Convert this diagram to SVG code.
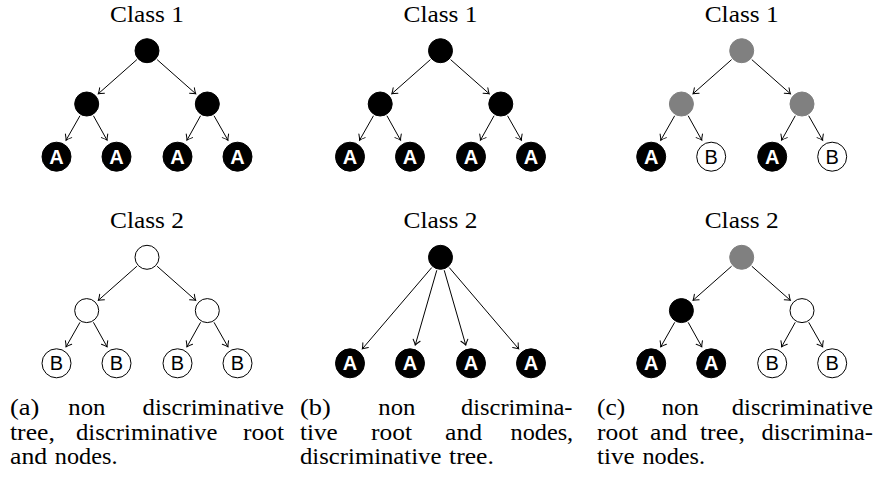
<svg xmlns="http://www.w3.org/2000/svg" width="882" height="483" viewBox="0 0 882 483">
<style>
.title{font-family:"Liberation Serif","Times New Roman",serif;font-size:23px;fill:#000;text-anchor:middle}
.cap{font-family:"Liberation Serif","Times New Roman",serif;font-size:23px;fill:#000}
.blk{fill:#000;stroke:#000;stroke-width:1}
.wht{fill:#fff;stroke:#000;stroke-width:1}
.gry{fill:#808080;stroke:#808080;stroke-width:1}
.la{font-family:"Liberation Sans",Arial,sans-serif;font-size:20px;font-weight:bold;fill:#fff;text-anchor:middle}
.lb{font-family:"Liberation Sans",Arial,sans-serif;font-size:20px;fill:#000;text-anchor:middle}
.edge{stroke:#000;stroke-width:1;fill:none;marker-end:url(#arr)}
</style>
<defs>
<marker id="arr" markerUnits="userSpaceOnUse" markerWidth="12" markerHeight="12" refX="0" refY="0" viewBox="-7 -6 8 12" orient="auto" overflow="visible">
<path d="M-5,-3.6 Q-1.8,-0.9 0,0 Q-1.8,0.9 -5,3.6" fill="none" stroke="#000" stroke-width="1" stroke-linecap="round"/>
</marker>
</defs>

<!-- Panel (a) top -->
<g id="a-top" transform="translate(147,50.7)">
<text class="title" x="0" y="-29" textLength="74" lengthAdjust="spacingAndGlyphs">Class 1</text>
<g id="a-top-edges">
<line class="edge" x1="-10.11" y1="8.94" x2="-48.69" y2="43.04"/>
<line class="edge" x1="10.11" y1="8.94" x2="48.69" y2="43.04"/>
<line class="edge" x1="-67.01" y1="65.02" x2="-80.94" y2="89.51"/>
<line class="edge" x1="-53.59" y1="65.02" x2="-39.94" y2="89.51"/>
<line class="edge" x1="53.59" y1="65.02" x2="39.94" y2="89.51"/>
<line class="edge" x1="67.01" y1="65.02" x2="80.94" y2="89.51"/>
</g>
<g id="a1-root"><circle class="blk" cx="0" cy="0" r="12"/></g>
<g id="a1-m1"><circle class="blk" cx="-60.3" cy="53.3" r="12"/></g>
<g id="a1-m2"><circle class="blk" cx="60.3" cy="53.3" r="12"/></g>
<g id="a1-l1"><circle class="blk" cx="-90.5" cy="106" r="14.5"/><text class="la" x="-90.5" y="113.2">A</text></g>
<g id="a1-l2"><circle class="blk" cx="-30.5" cy="106" r="14.5"/><text class="la" x="-30.5" y="113.2">A</text></g>
<g id="a1-l3"><circle class="blk" cx="30.5" cy="106" r="14.5"/><text class="la" x="30.5" y="113.2">A</text></g>
<g id="a1-l4"><circle class="blk" cx="90.5" cy="106" r="14.5"/><text class="la" x="90.5" y="113.2">A</text></g>
</g>

<!-- Panel (a) bottom -->
<g id="a-bot" transform="translate(147,257.3)">
<text class="title" x="0" y="-29" textLength="74" lengthAdjust="spacingAndGlyphs">Class 2</text>
<g id="a-bot-edges">
<line class="edge" x1="-10.11" y1="8.94" x2="-48.69" y2="43.04"/>
<line class="edge" x1="10.11" y1="8.94" x2="48.69" y2="43.04"/>
<line class="edge" x1="-67.01" y1="65.02" x2="-80.94" y2="89.51"/>
<line class="edge" x1="-53.59" y1="65.02" x2="-39.94" y2="89.51"/>
<line class="edge" x1="53.59" y1="65.02" x2="39.94" y2="89.51"/>
<line class="edge" x1="67.01" y1="65.02" x2="80.94" y2="89.51"/>
</g>
<g id="a2-root"><circle class="wht" cx="0" cy="0" r="12"/></g>
<g id="a2-m1"><circle class="wht" cx="-60.3" cy="53.3" r="12"/></g>
<g id="a2-m2"><circle class="wht" cx="60.3" cy="53.3" r="12"/></g>
<g id="a2-l1"><circle class="wht" cx="-90.5" cy="106" r="14.5"/><text class="lb" x="-90.5" y="113.2">B</text></g>
<g id="a2-l2"><circle class="wht" cx="-30.5" cy="106" r="14.5"/><text class="lb" x="-30.5" y="113.2">B</text></g>
<g id="a2-l3"><circle class="wht" cx="30.5" cy="106" r="14.5"/><text class="lb" x="30.5" y="113.2">B</text></g>
<g id="a2-l4"><circle class="wht" cx="90.5" cy="106" r="14.5"/><text class="lb" x="90.5" y="113.2">B</text></g>
</g>

<!-- Panel (b) top -->
<g id="b-top" transform="translate(440.5,50.7)">
<text class="title" x="0" y="-29" textLength="74" lengthAdjust="spacingAndGlyphs">Class 1</text>
<g id="b-top-edges">
<line class="edge" x1="-10.11" y1="8.94" x2="-48.69" y2="43.04"/>
<line class="edge" x1="10.11" y1="8.94" x2="48.69" y2="43.04"/>
<line class="edge" x1="-67.01" y1="65.02" x2="-80.94" y2="89.51"/>
<line class="edge" x1="-53.59" y1="65.02" x2="-39.94" y2="89.51"/>
<line class="edge" x1="53.59" y1="65.02" x2="39.94" y2="89.51"/>
<line class="edge" x1="67.01" y1="65.02" x2="80.94" y2="89.51"/>
</g>
<g id="b1-root"><circle class="blk" cx="0" cy="0" r="12"/></g>
<g id="b1-m1"><circle class="blk" cx="-60.3" cy="53.3" r="12"/></g>
<g id="b1-m2"><circle class="blk" cx="60.3" cy="53.3" r="12"/></g>
<g id="b1-l1"><circle class="blk" cx="-90.5" cy="106" r="14.5"/><text class="la" x="-90.5" y="113.2">A</text></g>
<g id="b1-l2"><circle class="blk" cx="-30.5" cy="106" r="14.5"/><text class="la" x="-30.5" y="113.2">A</text></g>
<g id="b1-l3"><circle class="blk" cx="30.5" cy="106" r="14.5"/><text class="la" x="30.5" y="113.2">A</text></g>
<g id="b1-l4"><circle class="blk" cx="90.5" cy="106" r="14.5"/><text class="la" x="90.5" y="113.2">A</text></g>
</g>

<!-- Panel (b) bottom -->
<g id="b-bot" transform="translate(440.5,257.3)">
<text class="title" x="0" y="-29" textLength="74" lengthAdjust="spacingAndGlyphs">Class 2</text>
<g id="b-bot-edges">
<line class="edge" x1="-8.77" y1="10.27" x2="-78.16" y2="91.55"/>
<line class="edge" x1="-3.73" y1="12.97" x2="-25.25" y2="87.74"/>
<line class="edge" x1="3.73" y1="12.97" x2="25.25" y2="87.74"/>
<line class="edge" x1="8.77" y1="10.27" x2="78.16" y2="91.55"/>
</g>
<g id="b2-root"><circle class="blk" cx="0" cy="0" r="12"/></g>
<g id="b2-l1"><circle class="blk" cx="-90.5" cy="106" r="14.5"/><text class="la" x="-90.5" y="113.2">A</text></g>
<g id="b2-l2"><circle class="blk" cx="-30.5" cy="106" r="14.5"/><text class="la" x="-30.5" y="113.2">A</text></g>
<g id="b2-l3"><circle class="blk" cx="30.5" cy="106" r="14.5"/><text class="la" x="30.5" y="113.2">A</text></g>
<g id="b2-l4"><circle class="blk" cx="90.5" cy="106" r="14.5"/><text class="la" x="90.5" y="113.2">A</text></g>
</g>

<!-- Panel (c) top -->
<g id="c-top" transform="translate(741.7,50.7)">
<text class="title" x="0" y="-29" textLength="74" lengthAdjust="spacingAndGlyphs">Class 1</text>
<g id="c-top-edges">
<line class="edge" x1="-10.11" y1="8.94" x2="-48.69" y2="43.04"/>
<line class="edge" x1="10.11" y1="8.94" x2="48.69" y2="43.04"/>
<line class="edge" x1="-67.01" y1="65.02" x2="-80.94" y2="89.51"/>
<line class="edge" x1="-53.59" y1="65.02" x2="-39.94" y2="89.51"/>
<line class="edge" x1="53.59" y1="65.02" x2="39.94" y2="89.51"/>
<line class="edge" x1="67.01" y1="65.02" x2="80.94" y2="89.51"/>
</g>
<g id="c1-root"><circle class="gry" cx="0" cy="0" r="12"/></g>
<g id="c1-m1"><circle class="gry" cx="-60.3" cy="53.3" r="12"/></g>
<g id="c1-m2"><circle class="gry" cx="60.3" cy="53.3" r="12"/></g>
<g id="c1-l1"><circle class="blk" cx="-90.5" cy="106" r="14.5"/><text class="la" x="-90.5" y="113.2">A</text></g>
<g id="c1-l2"><circle class="wht" cx="-30.5" cy="106" r="14.5"/><text class="lb" x="-30.5" y="113.2">B</text></g>
<g id="c1-l3"><circle class="blk" cx="30.5" cy="106" r="14.5"/><text class="la" x="30.5" y="113.2">A</text></g>
<g id="c1-l4"><circle class="wht" cx="90.5" cy="106" r="14.5"/><text class="lb" x="90.5" y="113.2">B</text></g>
</g>

<!-- Panel (c) bottom -->
<g id="c-bot" transform="translate(741.7,257.3)">
<text class="title" x="0" y="-29" textLength="74" lengthAdjust="spacingAndGlyphs">Class 2</text>
<g id="c-bot-edges">
<line class="edge" x1="-10.11" y1="8.94" x2="-48.69" y2="43.04"/>
<line class="edge" x1="10.11" y1="8.94" x2="48.69" y2="43.04"/>
<line class="edge" x1="-67.01" y1="65.02" x2="-80.94" y2="89.51"/>
<line class="edge" x1="-53.59" y1="65.02" x2="-39.94" y2="89.51"/>
<line class="edge" x1="53.59" y1="65.02" x2="39.94" y2="89.51"/>
<line class="edge" x1="67.01" y1="65.02" x2="80.94" y2="89.51"/>
</g>
<g id="c2-root"><circle class="gry" cx="0" cy="0" r="12"/></g>
<g id="c2-m1"><circle class="blk" cx="-60.3" cy="53.3" r="12"/></g>
<g id="c2-m2"><circle class="wht" cx="60.3" cy="53.3" r="12"/></g>
<g id="c2-l1"><circle class="blk" cx="-90.5" cy="106" r="14.5"/><text class="la" x="-90.5" y="113.2">A</text></g>
<g id="c2-l2"><circle class="blk" cx="-30.5" cy="106" r="14.5"/><text class="la" x="-30.5" y="113.2">A</text></g>
<g id="c2-l3"><circle class="wht" cx="30.5" cy="106" r="14.5"/><text class="lb" x="30.5" y="113.2">B</text></g>
<g id="c2-l4"><circle class="wht" cx="90.5" cy="106" r="14.5"/><text class="lb" x="90.5" y="113.2">B</text></g>
</g>

<!-- Captions -->
<g id="caption-a" class="cap">
<text x="10" y="415" textLength="29.4" lengthAdjust="spacingAndGlyphs">(a)</text>
<text x="68.3" y="415" textLength="37.1" lengthAdjust="spacingAndGlyphs">non</text>
<text x="142.6" y="415" textLength="141.4" lengthAdjust="spacingAndGlyphs">discriminative</text>
<text x="10" y="440" textLength="44.8" lengthAdjust="spacingAndGlyphs">tree,</text>
<text x="76" y="440" textLength="141.4" lengthAdjust="spacingAndGlyphs">discriminative</text>
<text x="243" y="440" textLength="41" lengthAdjust="spacingAndGlyphs">root</text>
<text x="10" y="464" textLength="37.1" lengthAdjust="spacingAndGlyphs">and</text>
<text x="54.8" y="464" textLength="62.7" lengthAdjust="spacingAndGlyphs">nodes.</text>
</g>
<g id="caption-b" class="cap">
<text x="300" y="415" textLength="30.7" lengthAdjust="spacingAndGlyphs">(b)</text>
<text x="378.3" y="415" textLength="37.1" lengthAdjust="spacingAndGlyphs">non</text>
<text x="461" y="415" textLength="111.4" lengthAdjust="spacingAndGlyphs">discrimina-</text>
<text x="300" y="440" textLength="37.7" lengthAdjust="spacingAndGlyphs">tive</text>
<text x="371" y="440" textLength="41" lengthAdjust="spacingAndGlyphs">root</text>
<text x="445" y="440" textLength="37.1" lengthAdjust="spacingAndGlyphs">and</text>
<text x="510.5" y="440" textLength="62.7" lengthAdjust="spacingAndGlyphs">nodes,</text>
<text x="300" y="464" textLength="141.4" lengthAdjust="spacingAndGlyphs">discriminative</text>
<text x="449.1" y="464" textLength="44.8" lengthAdjust="spacingAndGlyphs">tree.</text>
</g>
<g id="caption-c" class="cap">
<text x="597" y="415" textLength="28.1" lengthAdjust="spacingAndGlyphs">(c)</text>
<text x="661.7" y="415" textLength="37.1" lengthAdjust="spacingAndGlyphs">non</text>
<text x="731.7" y="415" textLength="141.4" lengthAdjust="spacingAndGlyphs">discriminative</text>
<text x="597" y="440" textLength="41" lengthAdjust="spacingAndGlyphs">root</text>
<text x="650" y="440" textLength="37.1" lengthAdjust="spacingAndGlyphs">and</text>
<text x="700" y="440" textLength="44.8" lengthAdjust="spacingAndGlyphs">tree,</text>
<text x="761.6" y="440" textLength="111.4" lengthAdjust="spacingAndGlyphs">discrimina-</text>
<text x="597" y="464" textLength="37.7" lengthAdjust="spacingAndGlyphs">tive</text>
<text x="642.4" y="464" textLength="62.7" lengthAdjust="spacingAndGlyphs">nodes.</text>
</g>
</svg>
